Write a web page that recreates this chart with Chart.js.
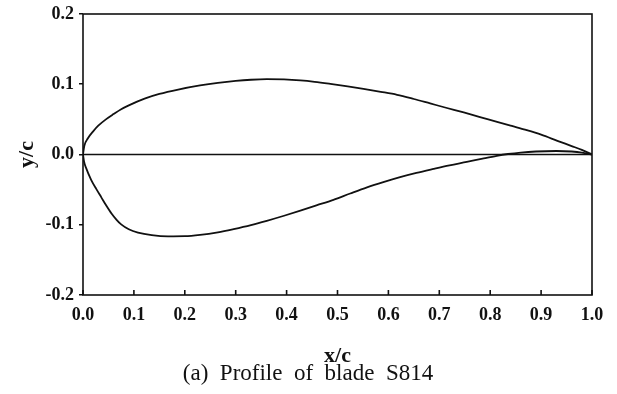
<!DOCTYPE html>
<html>
<head>
<meta charset="utf-8">
<script src="https://cdn.jsdelivr.net/npm/chart.js@4.4.1/dist/chart.umd.min.js"></script>
<style>
  html, body { margin: 0; padding: 0; background: #ffffff; }
  #wrap { width: 617px; height: 394px; }
</style>
</head>
<body>
<div id="wrap"><canvas id="c" width="617" height="394"></canvas></div>
<script>
// S814 blade profile: upper and lower surface coordinates (x/c, y/c)
const upperX = [0, 0.0025, 0.01, 0.02, 0.03, 0.045, 0.06, 0.075, 0.09, 0.121, 0.15, 0.187, 0.23, 0.265, 0.30, 0.33, 0.361, 0.395, 0.427, 0.455, 0.486, 0.52, 0.551, 0.585, 0.617, 0.65, 0.682, 0.715, 0.748, 0.78, 0.8135, 0.84, 0.866, 0.90, 0.932, 0.96, 0.98, 1.0];
const upperY = [0, 0.012, 0.0235, 0.033, 0.041, 0.050, 0.0575, 0.0645, 0.0700, 0.0795, 0.0862, 0.0925, 0.0983, 0.1020, 0.1048, 0.1064, 0.1072, 0.1068, 0.1054, 0.1034, 0.1005, 0.0970, 0.0935, 0.0893, 0.0850, 0.0790, 0.0727, 0.0662, 0.0598, 0.0533, 0.0466, 0.0412, 0.0358, 0.0282, 0.0195, 0.0120, 0.0066, 0];

const lowerX = [0, 0.002, 0.006, 0.016, 0.026, 0.036, 0.046, 0.056, 0.066, 0.075, 0.09, 0.108, 0.135, 0.167, 0.20, 0.23, 0.265, 0.296, 0.33, 0.361, 0.395, 0.427, 0.46, 0.492, 0.525, 0.558, 0.59, 0.623, 0.655, 0.689, 0.72, 0.754, 0.785, 0.813, 0.835, 0.86, 0.89, 0.93, 0.96, 0.98, 1.0];
const lowerY = [0, -0.010, -0.019, -0.036, -0.049, -0.061, -0.073, -0.084, -0.093, -0.0995, -0.1065, -0.1112, -0.1148, -0.1165, -0.1163, -0.1145, -0.1108, -0.1062, -0.1005, -0.0944, -0.0872, -0.0800, -0.0722, -0.0645, -0.0555, -0.0468, -0.0393, -0.0322, -0.0262, -0.0205, -0.0155, -0.0105, -0.0058, -0.0018, 0.0007, 0.0028, 0.0043, 0.0050, 0.0043, 0.0028, 0];

// chord line
const chordX = [0, 1];
const chordY = [0, 0];

// axis ticks
const xTicks = [0.0, 0.1, 0.2, 0.3, 0.4, 0.5, 0.6, 0.7, 0.8, 0.9, 1.0];
const yTicks = [-0.2, -0.1, 0.0, 0.1, 0.2];

const xTitle = 'x/c';
const yTitle = 'y/c';
const caption = '(a)  Profile  of  blade  S814';

const ink = '#111111';
const serif = "'Liberation Serif', 'Times New Roman', serif";

const toPoints = (xs, ys) => xs.map((x, i) => ({ x: x, y: ys[i] }));

// frame around the plot and inward ticks on the bottom axis
const framePlugin = {
  id: 'frame',
  afterDatasetsDraw(chart) {
    const { ctx, chartArea: a, scales } = chart;
    ctx.save();
    ctx.strokeStyle = ink;
    ctx.lineWidth = 1.6;
    ctx.strokeRect(a.left, a.top, a.right - a.left, a.bottom - a.top);
    ctx.beginPath();
    xTicks.forEach(v => {
      const px = scales.x.getPixelForValue(v);
      ctx.moveTo(px, a.bottom);
      ctx.lineTo(px, a.bottom - 5);
    });
    ctx.stroke();
    ctx.restore();
  }
};

const lineStyle = {
  showLine: true,
  borderColor: ink,
  borderWidth: 1.8,
  pointRadius: 0,
  fill: false,
  cubicInterpolationMode: 'monotone'
};

new Chart(document.getElementById('c'), {
  type: 'scatter',
  data: {
    datasets: [
      Object.assign({ label: 'upper', data: toPoints(upperX, upperY) }, lineStyle),
      Object.assign({ label: 'lower', data: toPoints(lowerX, lowerY) }, lineStyle),
      Object.assign({ label: 'chord', data: toPoints(chordX, chordY) }, lineStyle, { borderWidth: 1.6 })
    ]
  },
  options: {
    responsive: false,
    animation: false,
    layout: { padding: { top: 11, right: 25, bottom: 0, left: 24 } },
    plugins: {
      legend: { display: false },
      tooltip: { enabled: false },
      title: {
        display: true,
        position: 'bottom',
        text: caption,
        color: '#111',
        font: { family: serif, size: 23, weight: 'normal', lineHeight: 1.0 },
        padding: { top: 0, bottom: 8.5 }
      }
    },
    scales: {
      x: {
        type: 'linear',
        min: 0,
        max: 1,
        afterBuildTicks(scale) { scale.ticks = xTicks.map(v => ({ value: v })); },
        afterFit(scale) { scale.height = 67.5; },
        grid: { display: false, drawTicks: false },
        border: { display: false },
        ticks: {
          color: '#111',
          padding: 11,
          maxRotation: 0,
          font: { family: serif, size: 18, weight: 'bold', lineHeight: 1.0 },
          callback: v => Number(v).toFixed(1)
        },
        title: {
          display: true,
          text: xTitle,
          color: '#111',
          font: { family: serif, size: 22, weight: 'bold', lineHeight: 0.55 },
          padding: { top: 0, bottom: 0 }
        }
      },
      y: {
        type: 'linear',
        min: -0.2,
        max: 0.2,
        afterBuildTicks(scale) { scale.ticks = yTicks.map(v => ({ value: v })); },
        afterFit(scale) { scale.width = 59; },
        grid: { drawOnChartArea: false, drawTicks: true, tickLength: 4, color: ink, lineWidth: 1.5 },
        border: { display: false },
        ticks: {
          color: '#111',
          padding: 5,
          font: { family: serif, size: 18, weight: 'bold', lineHeight: 1.0 },
          callback: v => Number(v).toFixed(1)
        },
        title: {
          display: true,
          text: yTitle,
          color: '#111',
          font: { family: serif, size: 22, weight: 'bold', lineHeight: 1.2 },
          padding: { top: -10.2, bottom: 0 }
        }
      }
    }
  },
  plugins: [framePlugin]
});
</script>
</body>
</html>
